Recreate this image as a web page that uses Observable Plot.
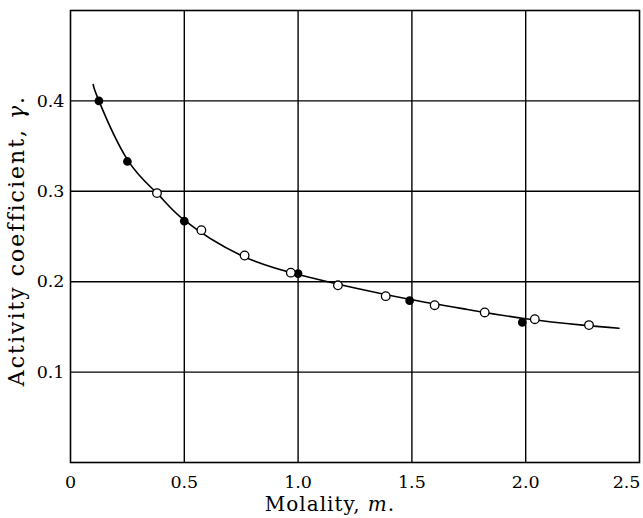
<!DOCTYPE html>
<html>
<head>
<meta charset="utf-8">
<script src="https://cdn.jsdelivr.net/npm/d3@7"></script>
<script src="https://cdn.jsdelivr.net/npm/@observablehq/plot@0.6"></script>
<style>
  html, body { margin: 0; padding: 0; background: #fff; }
</style>
</head>
<body>
<div id="chart"></div>
<script>
// Filled circles (molality, activity coefficient)
const filledM = [0.125, 0.25, 0.50, 1.00, 1.49, 1.985];
const filledG = [0.400, 0.333, 0.267, 0.209, 0.179, 0.155];
// Open circles
const openM = [0.38, 0.575, 0.765, 0.968, 1.175, 1.385, 1.60, 1.82, 2.04, 2.278];
const openG = [0.298, 0.257, 0.229, 0.210, 0.196, 0.184, 0.174, 0.166, 0.1585, 0.152];
// Smooth curve, points
const curveM = [0.10, 0.125, 0.25, 0.38, 0.50, 0.75, 1.00, 1.25, 1.50, 1.75, 2.00, 2.25, 2.41];
const curveG = [0.418, 0.400, 0.335, 0.298, 0.268, 0.229, 0.208, 0.193, 0.180, 0.169, 0.159, 0.152, 0.1485];
// Ticks / grid
const xTicks = [0, 0.5, 1.0, 1.5, 2.0];
const xLastTick = [2.5];
const xGrid = [0.5, 1.0, 1.5, 2.0];
const yTicks = [0.1, 0.2, 0.3, 0.4];

const filled = filledM.map((m, i) => ({m, g: filledG[i]}));
const open = openM.map((m, i) => ({m, g: openG[i]}));
const curve = curveM.map((m, i) => ({m, g: curveG[i]}));

const fmt = d => d === 0 ? "0" : d.toFixed(1);

const chart = Plot.plot({
  width: 643,
  height: 518,
  marginLeft: 70,
  marginRight: 4,
  marginTop: 10,
  marginBottom: 56,
  style: {fontFamily: "'DejaVu Serif', serif", fontSize: "17.5px", color: "#000", background: "#fff"},
  x: {domain: [0, 2.5]},
  y: {domain: [0, 0.5]},
  marks: [
    Plot.gridX(xGrid, {stroke: "#000", strokeOpacity: 1, strokeWidth: 1.4}),
    Plot.gridY(yTicks, {stroke: "#000", strokeOpacity: 1, strokeWidth: 1.4}),
    Plot.frame({stroke: "#000", strokeWidth: 1.6}),
    Plot.axisX(xTicks, {tickSize: 0, tickPadding: 13, tickFormat: fmt, fontSize: 17.5,
      label: "Molality, m.", labelAnchor: "center", labelArrow: "none", labelOffset: 48}),
    Plot.axisX(xLastTick, {tickSize: 0, tickPadding: 13, tickFormat: fmt, fontSize: 17.5, textAnchor: "end", dx: 1, label: null}),
    Plot.axisY(yTicks, {tickSize: 0, tickPadding: 6, tickFormat: d => d.toFixed(1), fontSize: 17.5,
      label: "Activity coefficient, γ.", labelAnchor: "center", labelArrow: "none", labelOffset: 62}),
    Plot.line(curve, {x: "m", y: "g", curve: "natural", stroke: "#000", strokeWidth: 1.6}),
    Plot.dot(filled, {x: "m", y: "g", r: 3.6, fill: "#000", stroke: "#000"}),
    Plot.dot(open, {x: "m", y: "g", r: 4.3, fill: "#fff", stroke: "#000", strokeWidth: 1.3})
  ]
});
document.getElementById("chart").appendChild(chart);

// italicise the symbols in the axis labels, and size / place the labels
function italicize(sel, before, sym, after, size, spacing, dx) {
  const t = d3.select(chart).select(sel);
  if (t.empty()) return;
  t.text(null).style("font-size", size).style("letter-spacing", spacing).attr("dx", dx);
  t.append("tspan").text(before);
  t.append("tspan").attr("font-style", "italic").text(sym);
  t.append("tspan").text(after);
}
italicize('g[aria-label="x-axis label"] text', "Molality, ", "m", ".", "20px", "1px", -25);
italicize('g[aria-label="y-axis label"] text', "Activity coefficient, ", "γ", ".", "22px", "2px", -4);
</script>
</body>
</html>
